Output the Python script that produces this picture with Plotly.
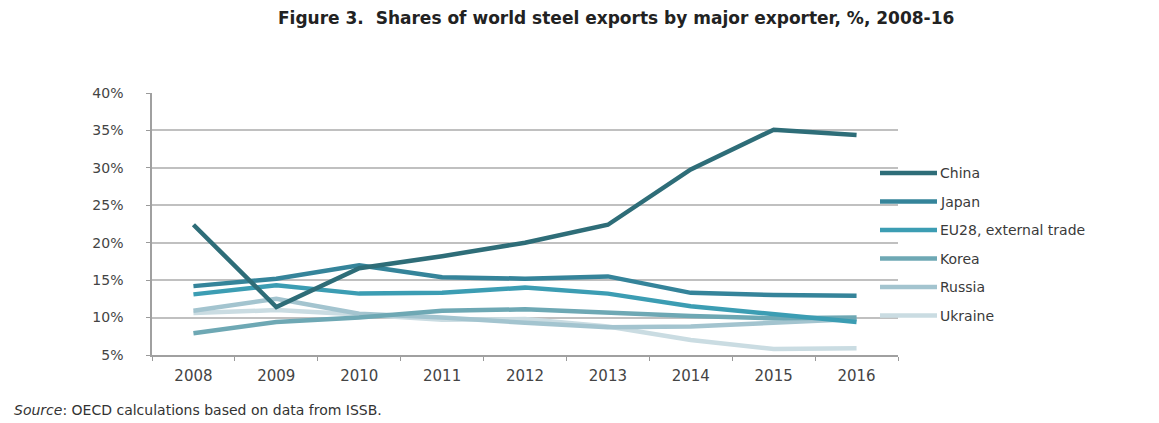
import plotly.graph_objects as go

years = ["2008", "2009", "2010", "2011", "2012", "2013", "2014", "2015", "2016"]
china = [22.4, 11.4, 16.6, 18.2, 20.0, 22.4, 29.8, 35.1, 34.4]
japan = [14.2, 15.2, 17.0, 15.4, 15.2, 15.5, 13.3, 13.0, 12.9]
eu28 = [13.1, 14.3, 13.2, 13.3, 14.0, 13.2, 11.5, 10.4, 9.4]
korea = [7.9, 9.4, 10.0, 10.9, 11.1, 10.6, 10.2, 9.9, 10.0]
russia = [10.9, 12.5, 10.5, 10.0, 9.3, 8.7, 8.8, 9.3, 9.8]
ukraine = [10.6, 11.0, 10.4, 9.7, 9.8, 8.8, 7.0, 5.8, 5.9]

series_names = ["China", "Japan", "EU28, external trade", "Korea", "Russia", "Ukraine"]
series_values = [china, japan, eu28, korea, russia, ukraine]
colors = ["#2e6d78", "#35849a", "#3c9db3", "#6ea8b4", "#a3c4cf", "#cadce2"]
y_ticks = [5, 10, 15, 20, 25, 30, 35, 40]

fig = go.Figure()
# draw lightest first so darker lines are on top
for name, vals, col in reversed(list(zip(series_names, series_values, colors))):
    fig.add_trace(go.Scatter(x=years, y=vals, mode="lines", name=name,
                             line=dict(color=col, width=4.5), showlegend=False))

# custom legend (to match spacing of reference)
L, R, T, B = 152, 898, 93, 355
W, H = 1159, 423
leg_x0, leg_x1 = 880, 937
leg_y0, leg_dy = 173, 28.5
for i, (name, col) in enumerate(zip(series_names, colors)):
    yy = leg_y0 + i * leg_dy
    fig.add_shape(type="line", xref="paper", yref="paper",
                  x0=(leg_x0 - L) / (R - L), x1=(leg_x1 - L) / (R - L),
                  y0=(B - yy) / (B - T), y1=(B - yy) / (B - T),
                  line=dict(color=col, width=4.5))
    fig.add_annotation(text=name, xref="paper", yref="paper",
                       x=(leg_x1 + 1 - L) / (R - L), y=(B - yy) / (B - T),
                       xanchor="left", yanchor="middle", showarrow=False,
                       font=dict(family="DejaVu Sans", size=14, color="#3a3a3a"))

fig.add_annotation(text="<b>Figure 3.  Shares of world steel exports by major exporter, %, 2008-16</b>",
                   xref="paper", yref="paper", x=(616 - L) / (R - L), y=(B - 18) / (B - T),
                   xanchor="center", yanchor="middle", showarrow=False,
                   font=dict(family="DejaVu Sans", size=17, color="#222222"))
fig.add_annotation(text="<i>Source</i>: OECD calculations based on data from ISSB.",
                   xref="paper", yref="paper", x=(12 - L) / (R - L), y=(B - 410) / (B - T),
                   xanchor="left", yanchor="middle", showarrow=False,
                   font=dict(family="DejaVu Sans", size=14, color="#333333"))

fig.update_layout(
    width=W, height=H, autosize=False,
    margin=dict(l=L, r=W - R, t=T, b=H - B, pad=0),
    paper_bgcolor="white", plot_bgcolor="white",
    showlegend=False,
    xaxis=dict(type="category", range=[-0.5, 8.5], tickson="boundaries", ticks="outside", ticklen=4,
               tickcolor="#9a9a9a", showgrid=False, showline=True, linecolor="#a0a0a0",
               linewidth=1.5, tickfont=dict(family="DejaVu Sans", size=15, color="#444444"),
               ticklabelstandoff=6),
    yaxis=dict(range=[5, 40], tickvals=y_ticks, ticktext=[f"{v}%" for v in y_ticks],
               showgrid=True, gridcolor="#c0c0c0", gridwidth=1.5, zeroline=False,
               showline=True, linecolor="#a0a0a0", linewidth=1.5, ticks="outside",
               ticklen=4, tickcolor="#9a9a9a",
               tickfont=dict(family="DejaVu Sans", size=14, color="#444444"),
               ticklabelstandoff=20),
)

fig.write_html("out.html")
